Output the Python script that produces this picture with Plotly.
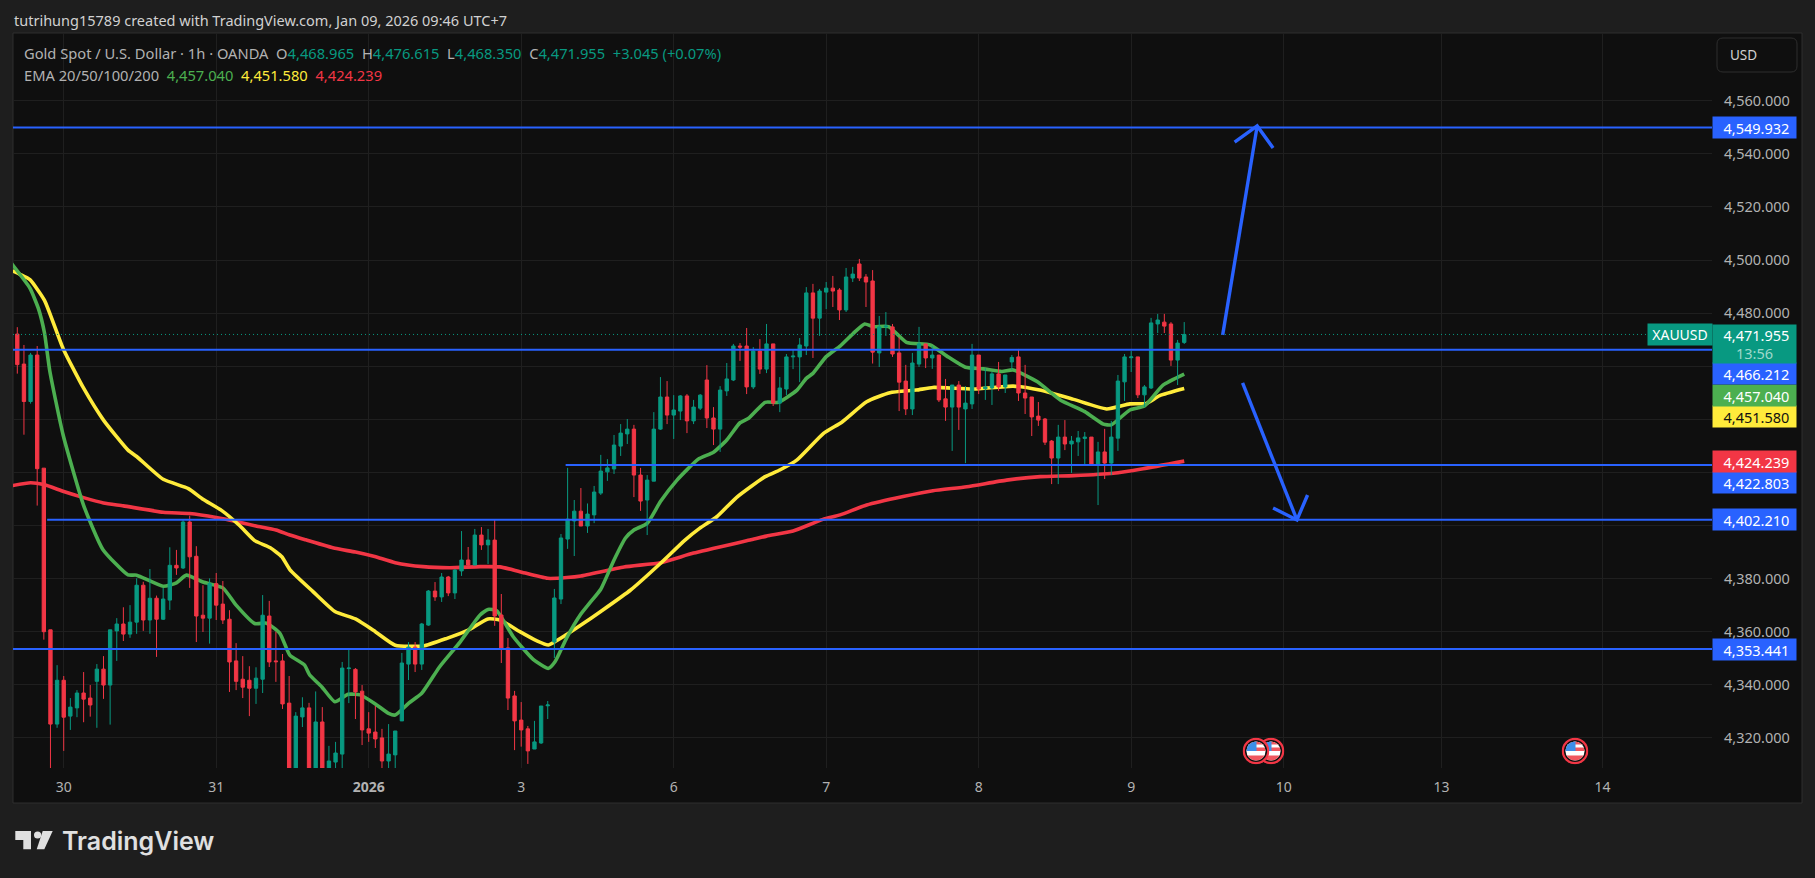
import base64
import plotly.graph_objects as go

W, H = 1815, 878
FONT = "Noto Sans"

# ---------- data ----------
opens = [
 4472.1,4460.8,4446.7,4464.2,4421.6,4360.7,4325.2,4341.7,4328.2,4331.3,
 4336.9,4335.0,4341.3,4345.9,4339.9,4360.3,4362.9,4359.1,4363.6,4377.5,
 4364.4,4372.6,4364.7,4371.9,4385.0,4384.0,4401.3,4388.4,4366.2,4365.1,
 4378.1,4370.4,4364.7,4349.0,4342.1,4341.7,4338.7,4342.1,4365.9,4349.0,
 4349.0,4333.1,4306,4327.9,4331.3,4306,4326.0,4308.5,4310.9,4313.9,
 4346.1,4345.8,4337.6,4323.4,4322.2,4320.0,4311.3,4313.6,4326.4,4347.8,
 4354.2,4347.8,4362.5,4375.3,4373.1,4380.6,4374.6,4382.9,4387.0,4385.1,
 4396.4,4392.7,4394.5,4366.3,4353.9,4335.8,4326.7,4323.4,4315.8,4318.1,
 4332.1,4356.1,4372.3,4394.9,4401.7,4405.4,4399.8,4404.0,4412.2,4420.2,
 4421.3,4429.9,4434.5,4436.3,4419.0,4409.6,4416.7,4436.3,4448.4,4441.6,
 4443.1,4448.8,4439.4,4444.2,4454.8,4440.5,4436.3,4450.7,4454.8,4467.6,
 4467.6,4452.2,4465.7,4458.9,4468.4,4446.1,4451.4,4463.5,4463.5,4467.6,
 4487.6,4478.1,4487.9,4489.4,4488.7,4481.2,4493.2,4498.5,4493.6,4492.1,
 4465.0,4474.8,4474.8,4465.0,4454.4,4443.9,4460.8,4468.4,4463.1,4464.2,
 4447.7,4444.6,4452.9,4443.9,4445.8,4464.2,4451.5,4451.8,4457.1,4452.2,
 4461.6,4463.5,4449.9,4448.4,4441.2,4440.1,4431.8,4425.4,4433.3,4430.7,
 4431.5,4432.8,4433.3,4422.6,4427.7,4423.5,4432.9,4454.1,4463.2,4463.5,
 4449.2,4451.8,4475.9,4476.6,4475.9,4462.3,4468.965]
highs = [
 4474.7,4468.0,4465.0,4467.6,4421.6,4360.7,4347.4,4343.3,4335.0,4338.0,
 4344.8,4339.9,4347.8,4350.8,4360.7,4365.1,4369.2,4370.0,4380.1,4378.8,
 4383.6,4373.6,4376.5,4391.8,4390.8,4402.4,4403.7,4392.2,4377.5,4380.1,
 4382.1,4379.1,4368.1,4355.7,4350.8,4347.0,4346.6,4373.8,4371.6,4360.0,
 4351.6,4343.3,4329.7,4335.3,4333.2,4337.5,4331.6,4317.0,4318.5,4348.6,
 4353.1,4346.3,4339.9,4329.7,4332.0,4323.4,4325.2,4322.6,4352.0,4356.1,
 4356.1,4363.3,4375.7,4378.7,4382.1,4381.0,4383.6,4397.9,4391.9,4398.7,
 4399.4,4398.7,4402.3,4374.2,4357.6,4337.7,4333.5,4324.5,4326.4,4332.0,
 4333.9,4376.1,4396.8,4421.7,4409.6,4414.1,4408.3,4414.9,4426.6,4425.0,
 4434.1,4438.2,4440.1,4437.9,4421.7,4419.0,4442.7,4455.9,4454.4,4449.1,
 4449.1,4449.5,4447.3,4449.5,4460.4,4444.6,4452.5,4461.2,4468.4,4468.7,
 4474.4,4467.2,4470.2,4475.9,4468.4,4455.9,4464.6,4466.1,4470.6,4489.8,
 4491.0,4489.1,4491.7,4494.0,4489.4,4497.0,4497.4,4500.4,4494.7,4496.2,
 4478.9,4480.4,4475.9,4470.9,4460.5,4465.0,4474.8,4468.4,4467.5,4464.2,
 4455.2,4452.9,4454.4,4452.5,4468.4,4464.2,4459.2,4457.9,4461.6,4456.7,
 4464.2,4466.5,4460.5,4448.4,4446.5,4440.5,4432.2,4437.9,4439.7,4433.7,
 4435.6,4435.2,4433.3,4431.5,4436.4,4439.4,4456.7,4464.6,4465.7,4463.5,
 4452.9,4478.2,4479.7,4479.7,4476.6,4469.9,4476.615]
lows = [
 4457.2,4434.2,4445.9,4407.5,4357.0,4305,4323.8,4315.1,4323.0,4327.8,
 4325.9,4328.0,4323.8,4334.7,4325.0,4349.0,4356.5,4357.7,4359.2,4360.3,
 4359.2,4350.5,4364.4,4368.2,4381.4,4383.6,4376.5,4356.1,4359.9,4355.5,
 4364.4,4362.9,4337.3,4338.0,4335.0,4328.2,4332.8,4336.9,4346.7,4341.1,
 4330.9,4304,4304,4324.1,4304,4304,4304,4305,4306,4306,
 4333.1,4327.1,4317.3,4318.5,4316.2,4306,4306,4306,4326.4,4341.8,
 4344.8,4345.6,4362.2,4371.6,4371.2,4373.4,4372.3,4381.0,4384.7,4385.1,
 4390.8,4385.5,4362.2,4348.2,4330.5,4315.4,4316.7,4310.2,4315.8,4317.7,
 4327.1,4350.1,4370.4,4391.2,4388.5,4399.8,4397.2,4400.9,4411.5,4416.8,
 4419.4,4426.2,4430.7,4410.7,4405.5,4396.4,4416.7,4436.0,4438.2,4432.6,
 4439.7,4434.8,4438.2,4443.5,4436.7,4430.3,4427.7,4448.8,4454.4,4462.0,
 4449.5,4451.4,4457.1,4457.4,4445.0,4442.7,4449.1,4458.9,4454.0,4464.2,
 4463.1,4471.4,4481.5,4482.3,4477.4,4480.4,4491.7,4492.1,4482.3,4461.0,
 4459.7,4471.4,4463.5,4443.1,4441.6,4441.6,4459.7,4459.3,4459.0,4446.5,
 4439.4,4428.1,4436.0,4423.5,4443.9,4449.5,4447.3,4445.4,4450.7,4449.9,
 4458.6,4446.9,4442.0,4433.7,4437.5,4430.3,4415.6,4415.6,4428.4,4419.8,
 4426.2,4422.8,4422.4,4407.7,4417.5,4419.0,4428.1,4446.9,4457.8,4448.0,
 4444.6,4451.4,4472.5,4472.5,4460.1,4452.9,4468.35]
closes = [
 4460.6,4446.7,4464.2,4421.4,4360.0,4325.2,4341.7,4327.8,4331.6,4336.9,
 4334.6,4332.4,4345.9,4339.9,4360.7,4362.9,4359.1,4363.6,4377.5,4364.4,
 4372.6,4364.7,4372.3,4385.0,4384.0,4401.3,4388.2,4365.9,4365.1,4378.1,
 4370.0,4364.4,4348.6,4341.3,4339.1,4338.7,4342.5,4366.2,4348.6,4348.7,
 4332.8,4306,4328.2,4331.3,4306,4326.0,4306,4311.3,4314.3,4346.3,
 4346.3,4337.3,4323.0,4321.8,4319.6,4311.3,4313.9,4322.6,4348.2,4354.2,
 4347.8,4362.9,4375.3,4373.1,4380.6,4374.6,4383.2,4387.0,4385.1,4396.4,
 4392.7,4394.5,4365.9,4353.5,4335.0,4326.4,4323.0,4315.1,4318.5,4332.0,
 4332.4,4372.7,4395.3,4402.4,4405.4,4399.8,4404.3,4412.6,4420.5,4421.7,
 4430.3,4434.8,4436.3,4419.0,4409.2,4417.1,4436.3,4448.4,4441.6,4443.5,
 4448.8,4439.4,4444.6,4449.1,4440.5,4436.3,4451.0,4455.2,4467.6,4467.2,
 4452.2,4465.7,4458.9,4468.4,4446.1,4451.8,4463.5,4463.8,4468.0,4487.6,
 4478.1,4488.3,4489.4,4488.3,4481.2,4493.6,4494.7,4493.2,4491.7,4465.3,
 4474.8,4475.1,4464.6,4454.0,4443.9,4461.2,4468.4,4463.1,4464.2,4447.3,
 4444.6,4452.9,4444.6,4446.1,4464.2,4451.4,4452.2,4457.1,4452.2,4456.7,
 4463.3,4449.9,4448.0,4440.9,4439.7,4431.4,4425.4,4433.3,4430.7,4431.8,
 4433.0,4433.3,4422.6,4427.7,4423.5,4433.3,4454.4,4463.5,4463.5,4449.2,
 4452.2,4476.3,4477.4,4475.1,4462.3,4468.7,4471.955]
bars = list(range(len(opens)))

ema20_x = [-1,1.9,3.2,4.1,4.9,6.9,10,12.9,16.7,18,22,24,25.5,28,31,33,35.8,37.6,39.6,41.1,43.3,44.1,45.9,47.9,49.9,51.7,54,56,57,59,61,63.7,66.8,69.8,71,72.3,74.8,77.8,80.1,81.1,82.9,84.9,86.4,88,90,91.7,93,95,97,99.5,102.7,105,107,109,110.3,112.8,114.8,117.6,119,120,122,124.1,126.1,127.8,129.1,131.4,134.1,137.7,140.2,143,145.7,148.5,150.2,153.8,157.3,161,163.8,165,167.8,170,172.8,176]
ema20_y = [4499.1,4489.4,4481.6,4472.5,4458.2,4434.2,4407.6,4391.0,4381.4,4381.3,4377.1,4378.4,4381.3,4378.7,4376.5,4370.0,4363.1,4363.2,4359.4,4351.2,4347.5,4343.7,4339.3,4333.6,4336.4,4336.2,4332.8,4329.2,4328.6,4333.0,4336.8,4346.8,4356.2,4366.3,4368.4,4367.9,4358.1,4349.6,4346.2,4348.7,4357.9,4366.3,4371,4376,4387,4395.2,4398.3,4400.8,4409.0,4417.1,4425.0,4427.6,4432.2,4438.7,4440.4,4446.4,4446.4,4451.0,4455.4,4457.3,4463.6,4467.6,4472.4,4475.9,4474.9,4474.9,4469.0,4468.0,4463.8,4459.6,4459.0,4458.0,4458.6,4454.2,4447.3,4442.9,4438.2,4437.9,4443.5,4445.0,4452.9,4457.04]
ema50_x = [-1,0.4,1.9,4.1,6.9,10,13,16.7,18,22,25.8,28,30.8,33.6,35.8,38.1,39.9,41.1,44.6,47.9,51,54,57,61.2,64.8,68,71,72.8,75.8,78.3,80.1,82.9,84.9,88.1,92.5,96.9,100.7,102.9,105.5,108.5,112.8,115,117.6,121.6,124.4,128.1,131.6,135.6,138.1,144.2,150.2,154.2,159.3,164.3,167.8,170.3,172.3,176]
ema50_y = [4496.2,4494.6,4492.6,4484.8,4466.7,4451.7,4439.7,4428.4,4426.0,4417.4,4413.9,4409.9,4405.7,4399.8,4394.3,4391.7,4388.2,4383.4,4375.1,4367.6,4364.8,4360.0,4354.9,4354.6,4357.5,4360.6,4364.8,4364.4,4360.0,4356.6,4355.0,4359.0,4362.3,4367.8,4375.7,4385.5,4394.5,4398.9,4403.3,4410.6,4418.4,4420.9,4424.7,4434.7,4439.0,4446.6,4450.0,4451.0,4452.0,4451.4,4452.5,4451.0,4447.5,4443.9,4445.8,4446.0,4448.9,4451.58]
ema200_x = [-1,2,4,7,10,13,16,22,26,30,33,36,39,41.1,43.5,47.9,51,53.9,57,61.2,65.2,69.8,72.8,75.8,80,82.9,85,91.5,97,102,110.5,113,117,121.5,124.1,128.1,133.6,138.1,143.2,149.2,154.3,159.3,165.3,169.8,176]
ema200_y = [4414.9,4416.1,4415.4,4412.8,4410.5,4408.5,4407.4,4405.0,4404.5,4403.0,4401.5,4399.8,4398.3,4396.4,4394.6,4391.4,4390.0,4388.3,4386.0,4384.5,4384.1,4384.5,4384.4,4382.6,4380.1,4380.4,4381.0,4384.4,4386.0,4389.6,4394.5,4396.0,4397.9,4402.3,4404.0,4407.7,4410.9,4413.1,4414.6,4417.1,4418.4,4418.8,4419.7,4421.4,4424.239]

level_prices = [4549.932, 4466.212, 4422.803, 4402.210, 4353.441]
level_starts = [-1, -1, 82.7, 4.5, -1]

arrow_up_x = [181.8, 187.0, None, 183.6, 187.0, 189.4]
arrow_up_y = [4471.8, 4550.5, None, 4544.4, 4550.5, 4542.2]
arrow_dn_x = [184.8, 193.0, None, 189.4, 193.0, 194.6]
arrow_dn_y = [4453.7, 4402.1, None, 4406.6, 4402.1, 4411.5]

price_ticks = list(range(4320, 4561, 20))
hidden_ticks = [4400, 4420, 4440, 4460]  # covered by the price tags in the reference
date_vals = [7, 30, 53, 76, 99, 122, 145, 168, 191, 214.8, 239.1]
date_text = ["30", "31", "<b>2026</b>", "3", "6", "7", "8", "9", "10", "13", "14"]

last_price = 4471.955

# ---------- geometry ----------
XMIN, XMAX = -0.65, 255.6
YMIN, YMAX = 4308.66, 4585.5
xdom = [13 / W, 1712 / W]
ydom = [1 - 768 / H, 1 - 33 / H]
BLUE, UP, DOWN = "#2962ff", "#089981", "#f23645"
GRID = "#1f1f1f"


def px(x):
    return x / W


def py(y):
    return 1 - y / H


fig = go.Figure()
for xs, ys, col in [(ema200_x, ema200_y, "#f23645"), (ema50_x, ema50_y, "#ffeb3b"), (ema20_x, ema20_y, "#4caf50")]:
    fig.add_trace(go.Scatter(x=xs, y=ys, mode="lines", line=dict(color=col, width=3.6, shape="spline", smoothing=0.5),
                             hoverinfo="skip"))

fig.add_trace(go.Candlestick(
    x=bars, open=opens, high=highs, low=lows, close=closes, xaxis="x2", yaxis="y2",
    increasing=dict(line=dict(color=UP, width=1), fillcolor=UP),
    decreasing=dict(line=dict(color=DOWN, width=1), fillcolor=DOWN),
    whiskerwidth=0, hoverinfo="skip"))

fig.add_trace(go.Scatter(x=[XMIN, 246.8], y=[last_price, last_price], mode="lines", xaxis="x3", yaxis="y3",
                         line=dict(color=UP, width=1, dash="1px,3px"), hoverinfo="skip"))
for p, s in zip(level_prices, level_starts):
    fig.add_trace(go.Scatter(x=[s, XMAX], y=[p, p], mode="lines", xaxis="x3", yaxis="y3",
                             line=dict(color=BLUE, width=2), hoverinfo="skip"))
for xs, ys in [(arrow_up_x, arrow_up_y), (arrow_dn_x, arrow_dn_y)]:
    fig.add_trace(go.Scatter(x=xs, y=ys, mode="lines", xaxis="x3", yaxis="y3",
                             line=dict(color=BLUE, width=3.4), hoverinfo="skip"))


def rrect(x0, y0, x1, y1, r=0):
    X0, X1 = px(x0), px(x1)
    Y0, Y1 = py(y0), py(y1)
    rx, ry = r / W, r / H
    if r == 0:
        return f"M{X0},{Y0} L{X1},{Y0} L{X1},{Y1} L{X0},{Y1} Z"
    return (f"M{X0+rx},{Y0} L{X1-rx},{Y0} Q{X1},{Y0} {X1},{Y0-ry} L{X1},{Y1+ry} Q{X1},{Y1} {X1-rx},{Y1} "
            f"L{X0+rx},{Y1} Q{X0},{Y1} {X0},{Y1+ry} L{X0},{Y0-ry} Q{X0},{Y0} {X0+rx},{Y0} Z")


def poly(pts):
    return "M" + " L".join(f"{px(a)},{py(b)}" for a, b in pts) + " Z"


shapes = [
    dict(type="path", path=rrect(13, 33, 1802, 803), xref="paper", yref="paper", layer="below",
         fillcolor="#0f0f0f", line=dict(color="#2e2e2e", width=1)),
    dict(type="path", path=rrect(1717, 38, 1797, 72, 6), xref="paper", yref="paper", layer="above",
         fillcolor="#0f0f0f", line=dict(color="#2e2e2e", width=1)),
    # TradingView logo
    dict(type="path", path=poly([(15.3, 831), (31, 831), (31, 849.3), (23.3, 849.3), (23.3, 840), (15.3, 840)]),
         xref="paper", yref="paper", fillcolor="#e0e0e0", line=dict(width=0)),
    dict(type="path", path=poly([(42.7, 831), (52.7, 831), (44.3, 849.3), (36.7, 849.3)]),
         xref="paper", yref="paper", fillcolor="#e0e0e0", line=dict(width=0)),
    dict(type="circle", xref="paper", yref="paper", x0=px(34), x1=px(41.2), y0=py(838.6), y1=py(831.4),
         fillcolor="#e0e0e0", line=dict(width=0)),
]

ann = []
NB = "\u00a0"


def label(price, text, bg, fg="#ffffff", shift=0, h=21):
    ann.append(dict(x=px(1754.5), xref="paper", xanchor="center", y=price, yref="y", yanchor="middle", yshift=shift,
                    text=text, showarrow=False,
                    bgcolor=bg, width=83, height=h, borderpad=0, align="center", valign="middle",
                    font=dict(family=FONT, size=14.5, color=fg)))


label(4549.932, NB + "4,549.932", BLUE)
label(4353.441, NB + "4,353.441", BLUE)
label(4402.210, NB + "4,402.210", BLUE)
label(4422.803, NB + "4,422.803", BLUE, shift=-17.5)
label(4424.239, NB + "4,424.239", DOWN)
label(4451.580, NB + "4,451.580", "#ffeb3b", fg="#111111", shift=-28)
label(4457.040, NB + "4,457.040", "#4caf50", shift=-21.4)
label(4466.212, NB + "4,466.212", BLUE, shift=-24)
label(last_price, NB + "4,471.955<br><span style=\"color:#9fd8cb\">13:56</span>", UP, shift=-9.5, h=38)

ann.append(dict(x=px(1680), xref="paper", xanchor="center", y=last_price, yref="y", yanchor="middle", text="XAUUSD",
                showarrow=False, bgcolor=UP, width=64, height=21, borderpad=0,
                font=dict(family=FONT, size=14, color="#ffffff")))
ann.append(dict(x=px(1728), xref="paper", xanchor="left", y=py(55), yref="paper", yanchor="middle", text="USD",
                showarrow=False, font=dict(family=FONT, size=13.5, color="#d1d1d1")))
ann.append(dict(x=px(12), xref="paper", xanchor="left", y=py(20), yref="paper", yanchor="middle",
                text="tutrihung15789 created with TradingView.com, Jan 09, 2026 09:46 UTC+7", showarrow=False,
                font=dict(family=FONT, size=14.5, color="#d1d1d1")))


def c(t, col):
    return f'<span style="color:{col}">{t}</span>'


line1 = ("Gold Spot / U.S. Dollar · 1h · OANDA" + NB + NB + "O" + c("4,468.965", UP) + NB + NB + "H" + c("4,476.615", UP)
         + NB + NB + "L" + c("4,468.350", UP) + NB + NB + "C" + c("4,471.955", UP) + NB + NB + c("+3.045 (+0.07%)", UP))
line2 = ("EMA 20/50/100/200" + NB + NB + c("4,457.040", "#4caf50") + NB + NB + c("4,451.580", "#ffeb3b")
         + NB + NB + c("4,424.239", DOWN))
for txt, yy in [(line1, 53.5), (line2, 74.5)]:
    ann.append(dict(x=px(22), xref="paper", xanchor="left", y=py(yy), yref="paper", yanchor="middle", text=txt,
                    showarrow=False, font=dict(family=FONT, size=14.7, color="#b2b2b2")))
ann.append(dict(x=px(60), xref="paper", xanchor="left", y=py(841), yref="paper", yanchor="middle", text="TradingView",
                showarrow=False, font=dict(family="Inter", size=25, color="#e0e0e0", weight=600)))

svg = ('<svg xmlns="http://www.w3.org/2000/svg" viewBox="0 0 27 27">'
       '<defs><clipPath id="c"><circle cx="13.5" cy="13.5" r="9.6"/></clipPath></defs>'
       '<circle cx="13.5" cy="13.5" r="12.2" fill="#111111" stroke="#f23645" stroke-width="2.2"/>'
       '<g clip-path="url(#c)"><rect width="27" height="27" fill="#ffffff"/>'
       '<rect y="3.5" width="27" height="3.5" fill="#f0575f"/><rect y="10" width="27" height="3.5" fill="#f0575f"/>'
       '<rect y="18" width="27" height="6" fill="#f0575f"/><rect y="3.5" width="14" height="10" fill="#3d8fe8"/></g></svg>')
src = "data:image/svg+xml;base64," + base64.b64encode(svg.encode()).decode()
images = [dict(source=src, xref="paper", yref="paper", x=px(cx - 13.5), y=py(751 - 13.5), sizex=27 / W, sizey=27 / H,
               xanchor="left", yanchor="top", layer="above", sizing="stretch")
          for cx in (1271, 1256, 1575)]

fig.update_layout(
    width=W, height=H, margin=dict(l=0, r=0, t=0, b=0, pad=0), showlegend=False,
    paper_bgcolor="#1e1e1e", plot_bgcolor="rgba(0,0,0,0)", hovermode=False, dragmode=False,
    boxgap=0.28, shapes=shapes, annotations=ann, images=images,
    font=dict(family=FONT, color="#b2b2b2"),
    xaxis=dict(domain=xdom, range=[XMIN, XMAX], tickmode="array", tickvals=date_vals, ticktext=date_text,
               showgrid=True, gridcolor=GRID, gridwidth=1, zeroline=False, showline=False, ticks="",
               tickfont=dict(family=FONT, size=14, color="#b2b2b2"), ticklabelstandoff=9,
               rangeslider=dict(visible=False), fixedrange=True, anchor="y"),
    yaxis=dict(domain=ydom, range=[YMIN, YMAX], side="right", tickmode="array", tickvals=price_ticks,
               ticktext=["" if v in hidden_ticks else f"{v:,.3f}" for v in price_ticks],
               showgrid=True, gridcolor=GRID, gridwidth=1,
               zeroline=False, showline=False, ticks="", tickfont=dict(family=FONT, size=14.5, color="#b2b2b2"),
               ticklabelstandoff=11, fixedrange=True, anchor="x"),
    xaxis2=dict(domain=xdom, range=[XMIN, XMAX], overlaying="x", visible=False, anchor="y2",
                rangeslider=dict(visible=False), fixedrange=True),
    yaxis2=dict(domain=ydom, range=[YMIN, YMAX], overlaying="y", visible=False, anchor="x2", fixedrange=True),
    xaxis3=dict(domain=xdom, range=[XMIN, XMAX], overlaying="x", visible=False, anchor="y3", fixedrange=True),
    yaxis3=dict(domain=ydom, range=[YMIN, YMAX], overlaying="y", visible=False, anchor="x3", fixedrange=True),
)

fig.write_html("out.html", config=dict(displayModeBar=False, responsive=False),
               post_script="document.body.style.margin='0';document.body.style.overflow='hidden';")
